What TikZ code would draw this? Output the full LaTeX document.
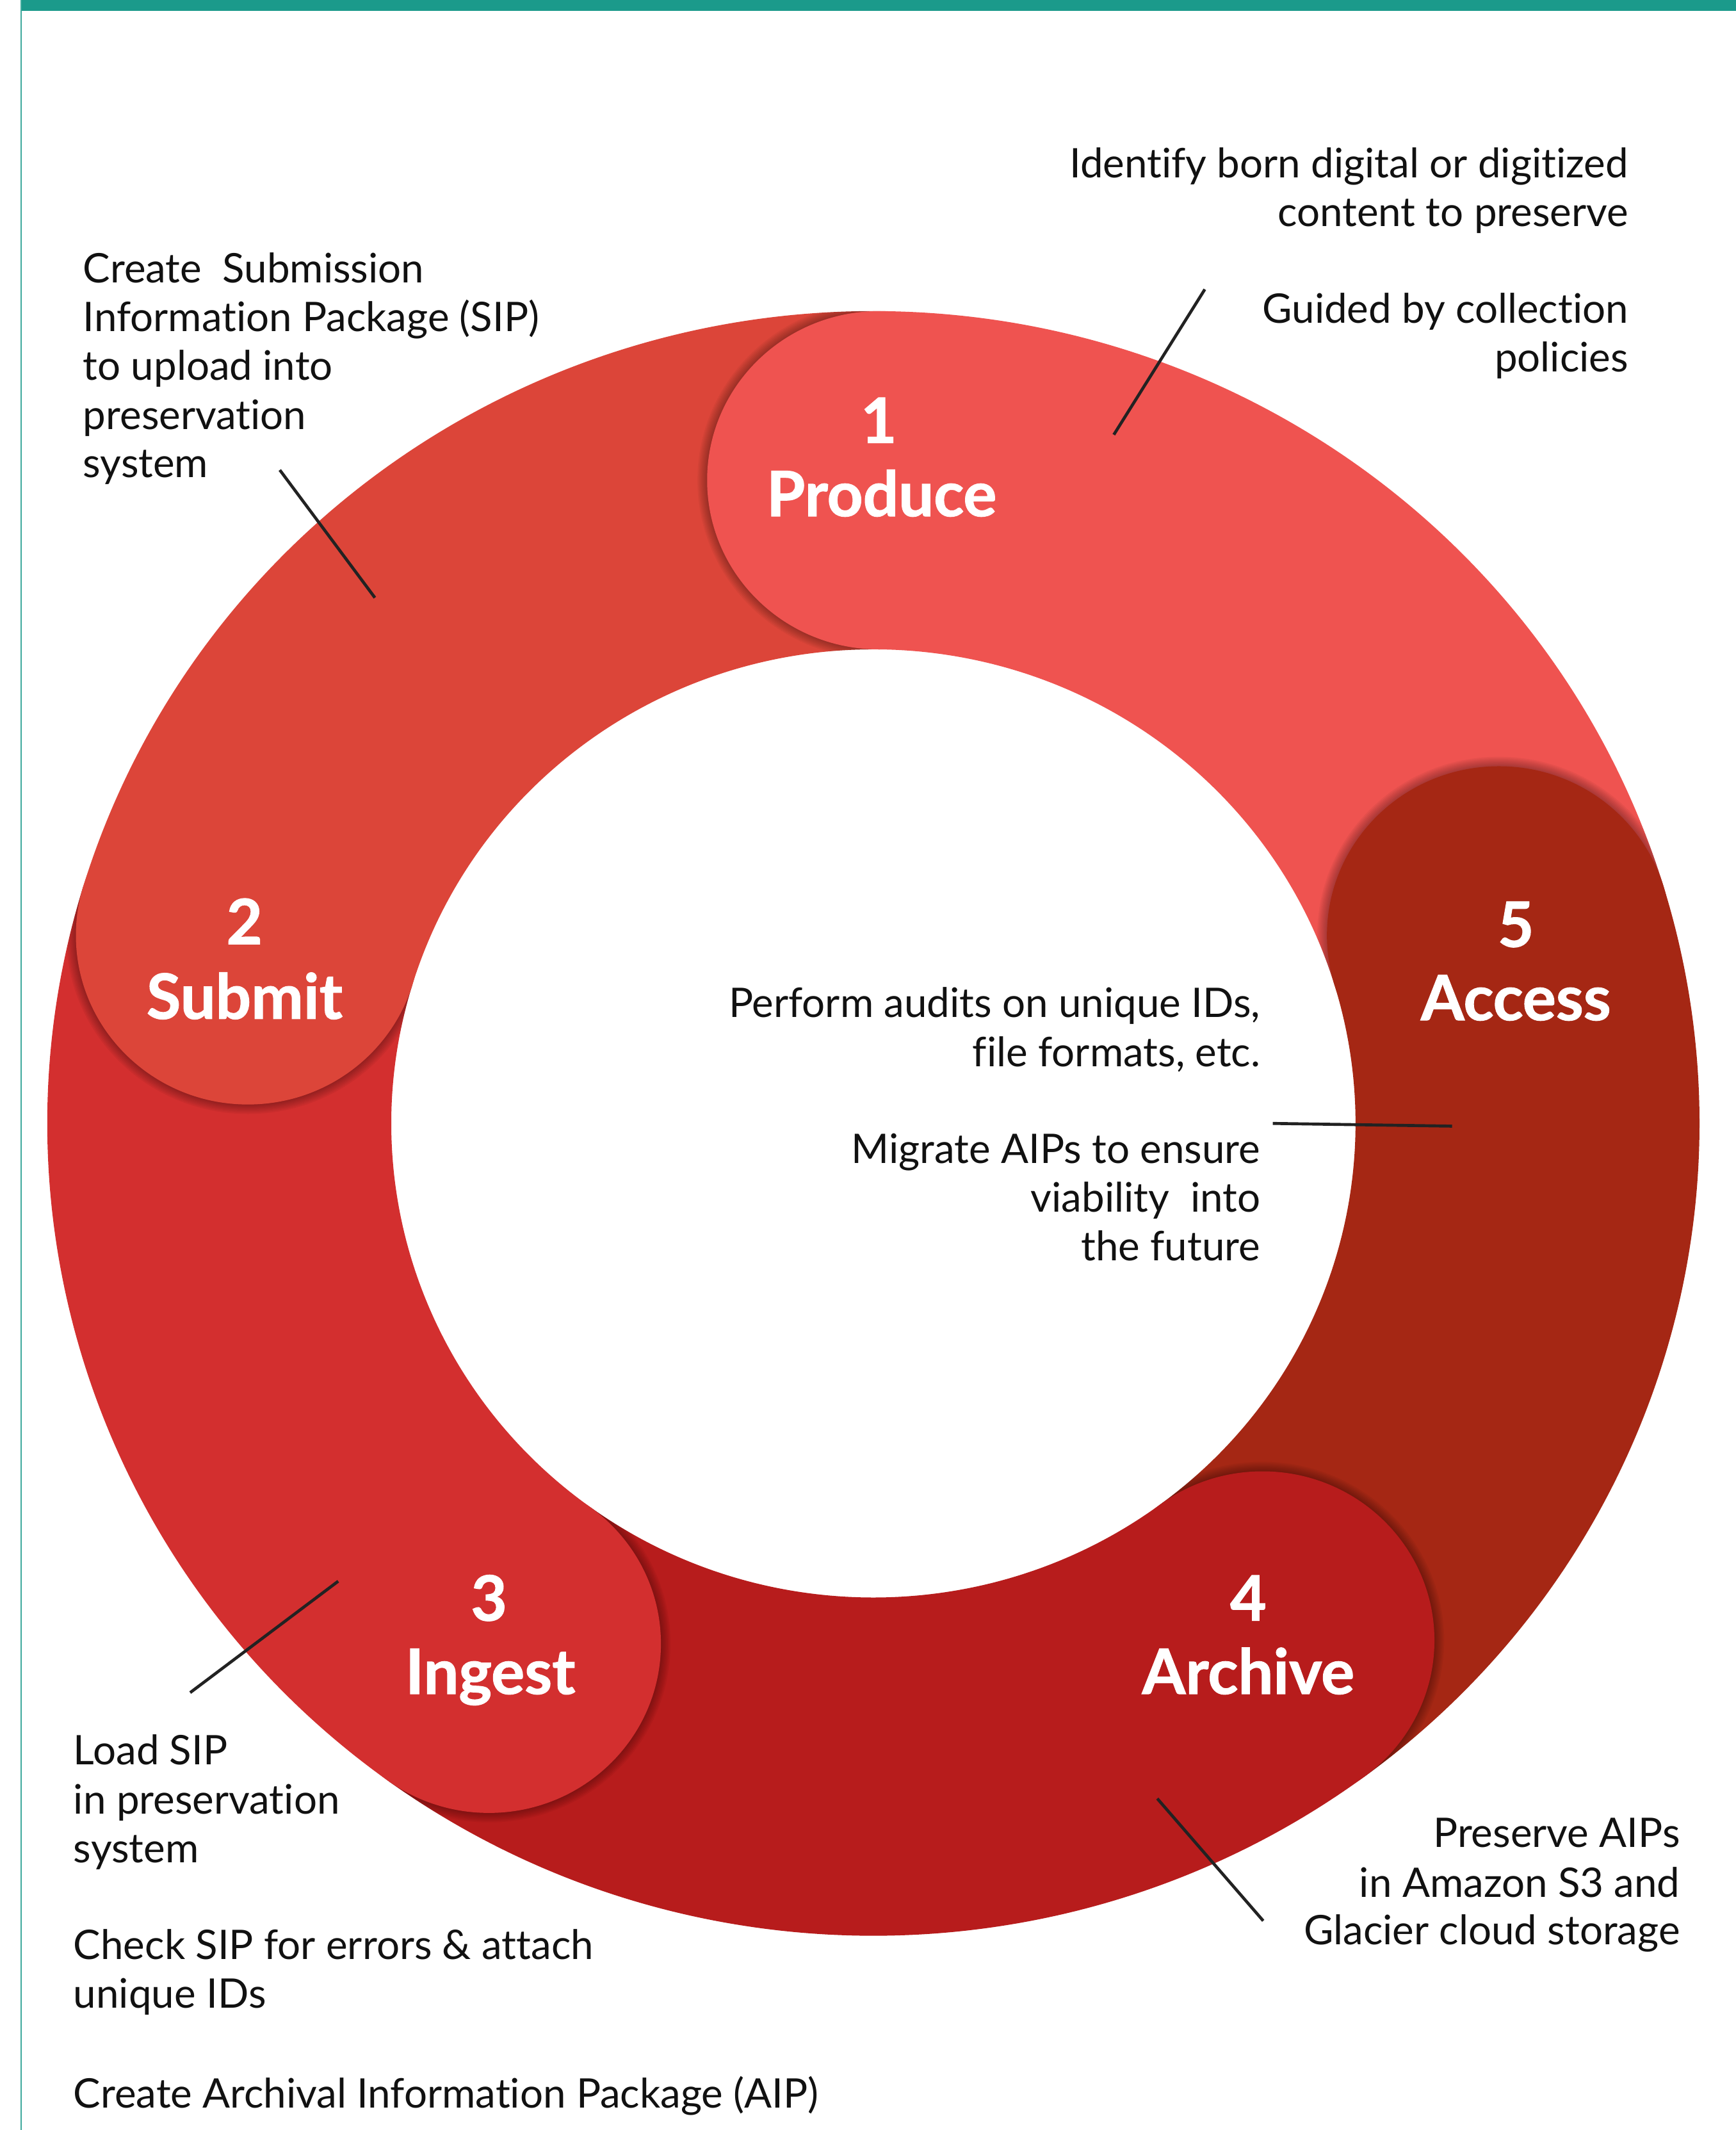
\documentclass[tikz,border=0pt]{standalone}
\usepackage{fontspec}
\setmainfont{Lato}[Ligatures=NoCommon]
\definecolor{cProduce}{HTML}{EF5350}
\definecolor{cSubmit}{HTML}{DC4539}
\definecolor{cIngest}{HTML}{D32F2F}
\definecolor{cArchive}{HTML}{B71C1C}
\definecolor{cAccess}{HTML}{A52714}
\definecolor{cTeal}{HTML}{1B9A8B}
\definecolor{cInk}{HTML}{111111}
\definecolor{cLead}{HTML}{222222}
\begin{document}
\begin{tikzpicture}[x=1pt,y=1pt,
  txt/.style={font=\fontsize{30}{36}\selectfont, inner sep=0pt, text=cInk},
  txtR/.style={txt, anchor=base east},
  txtL/.style={txt, anchor=base west},
  capnum/.style={font=\fontsize{46}{54}\selectfont\bfseries\addfontfeatures{FakeBold=1.2}, text=white, inner sep=0pt, anchor=base},
  leader/.style={draw=cLead, line width=2.2pt}]

\useasboundingbox (0,0) rectangle (1278,-1568);
\fill[white] (0,0) rectangle (1278,-1568);
\fill[cTeal] (15,0) rectangle (1278,-8);
\draw[cTeal!85, line width=1pt] (15.5,0) -- (15.5,-1568);

\def\Ro{598pt}
\def\Ri{349pt}
\def\Rm{473.5pt}
\def\Rc{124.5pt}

\begin{scope}[shift={(643,-827)}, xscale=1.017]
  % ring bodies
  \foreach \a/\b/\c in {17/89.5/cProduce, 89.5/163/cSubmit, 163/234/cIngest, 234/306.5/cArchive, 306.5/377/cAccess}{
    \fill[\c] (\a:\Ro) arc[start angle=\a, end angle=\b, radius=\Ro]
      -- (\b:\Ri) arc[start angle=\b, end angle=\a, radius=\Ri] -- cycle;
  }
  % soft shadows of the caps on the neighbouring body
  \foreach \a/\b in {89.5/163, 163/234, 234/306.5, 306.5/377, 377/449.5}{
    \begin{scope}
      \clip (\a:\Ro) arc[start angle=\a, end angle=\b, radius=\Ro]
        -- (\b:\Ri) arc[start angle=\b, end angle=\a, radius=\Ri] -- cycle;
      \foreach \k in {1,...,7}{
        \fill[black, opacity=0.045] (\a:\Rm) circle[radius=\Rc+\k pt];
      }
    \end{scope}
  }
  % round caps
  \foreach \a/\c in {89.5/cProduce, 163/cSubmit, 234/cIngest, 306.5/cArchive, 377/cAccess}{
    \fill[\c] (\a:\Rm) circle[radius=\Rc];
  }
\end{scope}

% stage labels
\node[capnum] (n1) at (647,-326) {1};
\node[capnum] (l1) at (649,-380) {Produce};
\node[capnum] (n2) at (180,-695) {2};
\node[capnum] (l2) at (180,-750) {Submit};
\node[capnum] (n3) at (360,-1193) {3};
\node[capnum] (l3) at (361,-1247) {Ingest};
\node[capnum] (n4) at (919,-1193) {4};
\node[capnum] (l4) at (919,-1247) {Archive};
\node[capnum] (n5) at (1116,-697) {5};
\node[capnum] (l5) at (1116,-751) {Access};

% top right
\node[txtR] (pa) at (1199,-131) {Identify born digital or digitized};
\node[txtR] (pb) at (1199,-166.5) {content to preserve};
\node[txtR] (pc) at (1199,-238) {Guided by collection};
\node[txtR] (pd) at (1199,-273.5) {policies};

% top left
\node[txtL] (sa) at (61,-208) {Create~ Submission};
\node[txtL] (sb) at (61,-244) {Information Package (SIP)};
\node[txtL] (sc) at (61,-280) {to upload into};
\node[txtL] (sd) at (61,-316) {preservation};
\node[txtL] (se) at (61,-351.5) {system};

% centre
\node[txtR] (ca) at (928,-749) {Perform audits on unique IDs,};
\node[txtR] (cb) at (928,-785) {file formats, etc.};
\node[txtR] (cc) at (928,-856.5) {Migrate AIPs to ensure};
\node[txtR] (cd) at (928,-892) {viability~ into};
\node[txtR] (ce) at (928,-928) {the future};

% bottom left
\node[txtL] (ia) at (54,-1299) {Load SIP};
\node[txtL] (ib) at (54,-1335.5) {in preservation};
\node[txtL] (ic) at (54,-1371) {system};
\node[txtL] (id) at (54,-1442.5) {Check SIP for errors \& attach};
\node[txtL] (ie) at (54,-1478) {unique IDs};
\node[txtL] (if) at (54,-1551.5) {Create Archival Information Package (AIP)};

% bottom right
\node[txtR] (aa) at (1237,-1360) {Preserve AIPs};
\node[txtR] (ab) at (1237,-1396.5) {in Amazon S3 and};
\node[txtR] (ac) at (1237,-1431.5) {Glacier cloud storage};

% leader lines
\coordinate (q1a) at (887,-213);  \coordinate (q1b) at (820,-320);
\coordinate (q2a) at (206,-346);  \coordinate (q2b) at (276,-440);
\coordinate (q3a) at (937,-827);  \coordinate (q3b) at (1069,-829);
\coordinate (q4a) at (249,-1164); \coordinate (q4b) at (140,-1246);
\coordinate (q5a) at (852,-1324); \coordinate (q5b) at (930,-1414);
\draw[leader] (q1a) -- (q1b);
\draw[leader] (q2a) -- (q2b);
\draw[leader] (q3a) -- (q3b);
\draw[leader] (q4a) -- (q4b);
\draw[leader] (q5a) -- (q5b);
\end{tikzpicture}
\end{document}
